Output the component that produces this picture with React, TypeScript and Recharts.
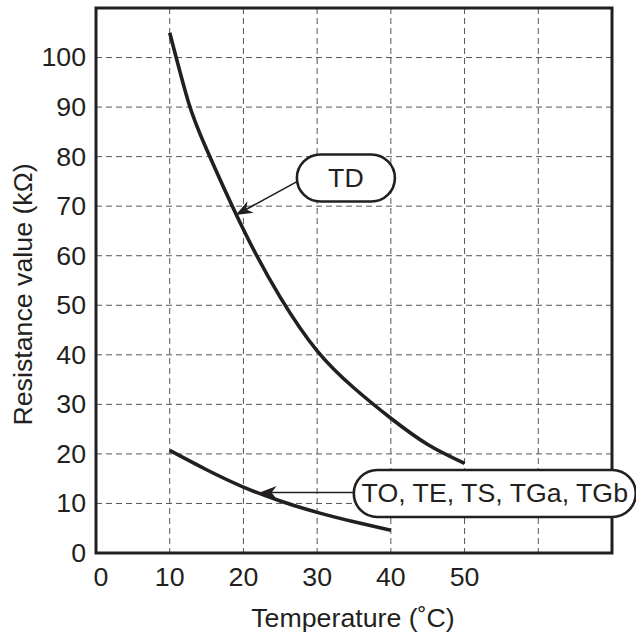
import { CartesianGrid, Line, LineChart, ReferenceArea, ReferenceDot, ReferenceLine, XAxis, YAxis } from "recharts";

const tdTemps = [10, 12.5, 15, 20, 25, 30, 35, 40, 45, 50];
const tdValues = [105, 91.2, 81.5, 65.3, 51.6, 40.8, 33.3, 27.2, 21.9, 18.1];

const lowTemps = [10, 15, 20, 25, 30, 35, 40];
const lowValues = [20.7, 16.8, 13.3, 10.5, 8.2, 6.3, 4.6];

const xTicks = [0, 10, 20, 30, 40, 50, 60, 70];
const xTickLabels = ["0", "10", "20", "30", "40", "50", "", ""];
const yTicks = [0, 10, 20, 30, 40, 50, 60, 70, 80, 90, 100];

const tdData = tdTemps.map((t, i) => ({ t, r: tdValues[i] }));
const lowData = lowTemps.map((t, i) => ({ t, r: lowValues[i] }));

const INK = "#231f20";
const FONT = "'Liberation Sans', Arial, Helvetica, sans-serif";
const STRETCH = 1.07;

// wider glyphs than Arial in the source, so stretch text horizontally a bit
function SText({ x, y, anchor = "middle", rotate = false, dy, baseline, children }: any) {
  return (
    <text
      transform={`translate(${x} ${y})${rotate ? " rotate(-90)" : ""} scale(${STRETCH} 1)`}
      x={0}
      y={0}
      dy={dy}
      textAnchor={anchor}
      dominantBaseline={baseline}
      fill={INK}
      fontSize={25}
      fontFamily={FONT}
    >
      {children}
    </text>
  );
}

function XTick({ x, y, payload }: any) {
  const i = xTicks.indexOf(payload.value);
  return (
    <SText x={x + (payload.value === 0 ? 5 : 0)} y={y} dy="0.71em">
      {xTickLabels[i]}
    </SText>
  );
}

function YTick({ x, y, payload }: any) {
  return (
    <SText x={x} y={y} dy="0.355em" anchor="end">
      {payload.value}
    </SText>
  );
}

function YTitle({ viewBox }: any) {
  const cx = viewBox.x + 23;
  const cy = viewBox.y + viewBox.height / 2 + 14;
  return (
    <SText x={cx} y={cy} rotate baseline="central">
      Resistance value (kΩ)
    </SText>
  );
}

function XTitle({ viewBox }: any) {
  return (
    <SText x={viewBox.x + viewBox.width / 2 - 1} y={viewBox.y + 74}>
      Temperature (˚C)
    </SText>
  );
}

function Arrow({ x1, y1, x2, y2 }: any) {
  const dx = x2 - x1;
  const dy = y2 - y1;
  const len = Math.hypot(dx, dy) || 1;
  const ux = dx / len;
  const uy = dy / len;
  const nx = -uy;
  const ny = ux;
  const L = 17;
  const W = 6.5;
  const pts = [
    [x2, y2],
    [x2 - ux * L + nx * W, y2 - uy * L + ny * W],
    [x2 - ux * L * 0.7, y2 - uy * L * 0.7],
    [x2 - ux * L - nx * W, y2 - uy * L - ny * W],
  ]
    .map((p) => p.join(","))
    .join(" ");
  return (
    <g>
      <line x1={x1} y1={y1} x2={x2 - ux * 8} y2={y2 - uy * 8} stroke={INK} strokeWidth={1.6} />
      <polygon points={pts} fill={INK} />
    </g>
  );
}

function callout(text: string, w: number, h: number) {
  return ({ cx, cy }: any) => (
    <g>
      <rect x={cx - w / 2} y={cy - h / 2} width={w} height={h} rx={h / 2} ry={h / 2} fill="#fff" stroke={INK} strokeWidth={2.6} />
      <SText x={cx} y={cy} baseline="central">
        {text}
      </SText>
    </g>
  );
}

export default function App() {
  return (
    <div style={{ position: "absolute", left: 0, top: 0, background: "#fff" }}>
      <LineChart width={636} height={637} margin={{ top: 8, right: 24, bottom: 0, left: 0 }}>
        <CartesianGrid strokeDasharray="6 4" stroke="#555" strokeWidth={1} />
        <XAxis
          type="number"
          dataKey="t"
          domain={[0, 70]}
          ticks={xTicks}
          interval={0}
          allowDataOverflow
          axisLine={false}
          tickLine={false}
          tickSize={6}
          tickMargin={9}
          height={84}
          tick={<XTick />}
          label={<XTitle />}
        />
        <YAxis
          type="number"
          domain={[0, 110]}
          ticks={yTicks}
          interval={0}
          allowDataOverflow
          axisLine={false}
          tickLine={false}
          tickSize={6}
          tickMargin={4}
          width={96}
          tick={<YTick />}
          label={<YTitle />}
        />
        <ReferenceArea x1={0} x2={70} y1={0} y2={110} fill="none" stroke={INK} strokeWidth={3} ifOverflow="visible" />
        <Line data={tdData} dataKey="r" type="natural" stroke={INK} strokeWidth={3.6} dot={false} isAnimationActive={false} />
        <Line data={lowData} dataKey="r" type="natural" stroke={INK} strokeWidth={3.6} dot={false} isAnimationActive={false} />
        <ReferenceLine segment={[{ x: 27.2, y: 74.9 }, { x: 18.95, y: 68.2 }]} ifOverflow="visible" shape={<Arrow />} />
        <ReferenceLine segment={[{ x: 34.85, y: 12.2 }, { x: 22.2, y: 12.2 }]} ifOverflow="visible" shape={<Arrow />} />
        <ReferenceDot x={33.9} y={75.7} r={0} ifOverflow="visible" shape={callout("TD", 98, 47)} />
        <ReferenceDot x={54.1} y={12.0} r={0} ifOverflow="visible" shape={callout("TO, TE, TS, TGa, TGb", 282, 47)} />
      </LineChart>
    </div>
  );
}
